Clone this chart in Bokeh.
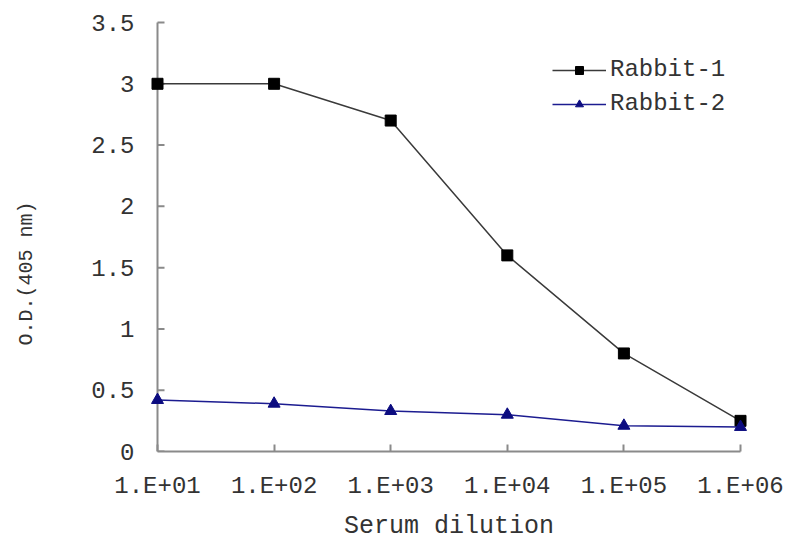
import math
from bokeh.plotting import figure
from bokeh.layouts import row
from bokeh.models import Range1d, FixedTicker, CustomJSTickFormatter, Legend, LegendItem, ColumnDataSource, Label
from bokeh.embed import file_html
from bokeh.resources import INLINE

dilution = [1e1, 1e2, 1e3, 1e4, 1e5, 1e6]
rabbit1 = [3.0, 3.0, 2.7, 1.6, 0.8, 0.25]
rabbit2 = [0.42, 0.39, 0.33, 0.30, 0.21, 0.20]
x_tick_labels = ["1.E+01", "1.E+02", "1.E+03", "1.E+04", "1.E+05", "1.E+06"]
y_ticks = [0, 0.5, 1, 1.5, 2, 2.5, 3, 3.5]

FONT = "Liberation Mono"
AX = "#8a8a8a"
TXT = "#333333"

W, H = 787, 544
LW = 60  # width of the strip holding the y-axis title

# axes at x=157..740 px, y=451..22 px; frame padded sideways so edge markers are not clipped
PADX = 8
PADT = 3
TICK = 7
decade_px = (740 - 157) / (math.log10(dilution[-1]) - math.log10(dilution[0]))
unit_px = (451 - 22) / (y_ticks[-1] - y_ticks[0])
dx = PADX / decade_px
x_rng = Range1d(10 ** (math.log10(dilution[0]) - dx), 10 ** (math.log10(dilution[-1]) + dx))
y_rng = Range1d(y_ticks[0], y_ticks[-1] + PADT / unit_px)

# left strip with the vertical axis title (its frame is aligned with the main frame)
lab = figure(width=LW, height=H, x_range=Range1d(0, 1), y_range=Range1d(0, 1),
             x_axis_location=None, y_axis_location=None,
             output_backend="svg", toolbar_location=None, min_border=0)
lab.outline_line_color = None
lab.grid.visible = False
lab.add_layout(Label(x=26, y=451 - 273, x_units="screen", y_units="screen",
                     text="O.D.(405 nm)", text_font=FONT, text_font_size="20px",
                     text_color=TXT, text_align="center", text_baseline="middle",
                     angle=math.pi / 2))

p = figure(width=W - LW, height=H, x_axis_type="log",
           x_range=x_rng, y_range=y_rng,
           output_backend="svg", toolbar_location=None,
           min_border_left=157 - PADX - LW, min_border_right=W - 740 - PADX,
           min_border_top=22 - PADT, min_border_bottom=H - 451)
p.outline_line_color = None
p.grid.visible = False
p.background_fill_color = "white"

# y axis line and inward ticks, drawn at the first dilution
x_tick_end = dilution[0] * 10 ** (TICK / decade_px)
p.segment(x0=[dilution[0]], y0=[y_ticks[0]], x1=[dilution[0]], y1=[y_ticks[-1]],
          line_color=AX, line_width=2)
p.segment(x0=[dilution[0]] * len(y_ticks), y0=y_ticks,
          x1=[x_tick_end] * len(y_ticks), y1=y_ticks,
          line_color=AX, line_width=2)

src = ColumnDataSource(dict(x=dilution, r1=rabbit1, r2=rabbit2))
l1 = p.line("x", "r1", source=src, line_color="#3a3a3a", line_width=1.5)
m1 = p.scatter("x", "r1", source=src, marker="square", size=11, fill_color="black", line_color="black")
l2 = p.line("x", "r2", source=src, line_color="#1c1c90", line_width=1.5)
m2 = p.scatter("x", "r2", source=src, marker="triangle", size=12, fill_color="#0c0c80", line_color="#0c0c80")

p.xaxis.ticker = FixedTicker(ticks=dilution)
p.xaxis.formatter = CustomJSTickFormatter(args=dict(labs=x_tick_labels, tvals=dilution), code="""
let best = 0;
for (let i = 0; i < tvals.length; i++) {
  if (Math.abs(Math.log10(tvals[i]) - Math.log10(tick)) < Math.abs(Math.log10(tvals[best]) - Math.log10(tick))) best = i;
}
return labs[best];
""")
p.xaxis.bounds = (dilution[0], dilution[-1])
p.yaxis.ticker = FixedTicker(ticks=y_ticks)

for ax in (p.xaxis[0], p.yaxis[0]):
    ax.minor_tick_line_color = None
    ax.major_label_text_font = FONT
    ax.major_label_text_font_size = "24px"
    ax.major_label_text_color = TXT

p.xaxis.axis_line_color = AX
p.xaxis.axis_line_width = 2
p.xaxis.major_tick_line_color = AX
p.xaxis.major_tick_line_width = 2
p.xaxis.major_tick_in = TICK
p.xaxis.major_tick_out = 0
p.xaxis.major_label_standoff = 21

p.yaxis.axis_line_color = None
p.yaxis.major_tick_line_color = None
p.yaxis.major_tick_in = 0
p.yaxis.major_tick_out = 0
p.yaxis.major_label_standoff = 15

p.xaxis.axis_label = "Serum dilution"
p.xaxis.axis_label_text_font = FONT
p.xaxis.axis_label_text_font_size = "25px"
p.xaxis.axis_label_text_font_style = "normal"
p.xaxis.axis_label_text_color = TXT
p.xaxis.axis_label_standoff = 9

legend = Legend(items=[LegendItem(label="Rabbit-1", renderers=[l1, m1]),
                       LegendItem(label="Rabbit-2", renderers=[l2, m2])],
                location=(403, 334))
legend.border_line_color = None
legend.background_fill_alpha = 0
legend.label_text_font = FONT
legend.label_text_font_size = "24px"
legend.label_text_color = TXT
legend.glyph_width = 54
legend.label_standoff = 4
legend.spacing = 7
p.add_layout(legend)

open("out.html", "w").write(file_html(row(lab, p), INLINE))
